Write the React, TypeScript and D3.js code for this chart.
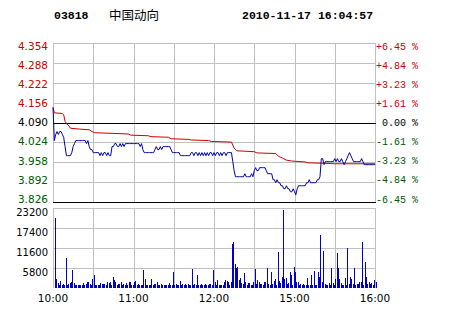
import React from 'react';
import * as d3 from 'd3';

const stockCode = '03818';
const stockName = '中国动向';
const timestamp = '2010-11-17 16:04:57';
const prevClose = 4.09;
const priceTicks = [4.354, 4.288, 4.222, 4.156, 4.09, 4.024, 3.958, 3.892, 3.826];
const pctTicks = ['+6.45 %', '+4.84 %', '+3.23 %', '+1.61 %', ' 0.00 %', '-1.61 %', '-3.23 %', '-4.84 %', '-6.45 %'];
const volTicks = [23200, 17400, 11600, 5800];
const timeLabels: [number, string][] = [[0, '10:00'], [60, '11:00'], [120, '12:00'], [180, '15:00'], [240, '16:00']];
const gridMinutes = [0, 30, 60, 90, 120, 150, 180, 210, 240];

// one value per trading minute (10:00-12:30, 14:30-16:00)
const price = [
  4.14, 4.03, 4.05, 4.06, 4.05, 4.06, 4.06, 4.05, 4.04, 4.01,
  3.98, 3.98, 3.98, 3.98, 3.99, 4.01, 4.02, 4.03, 4.03, 4.03,
  4.03, 4.03, 4.03, 4.03, 4.03, 4.02, 4.03, 4.01, 4.00, 4.00,
  3.99, 3.99, 3.99, 3.99, 3.99, 3.98, 3.99, 3.98, 3.99, 3.99,
  3.98, 3.99, 3.98, 3.98, 4.01, 4.01, 4.02, 4.02, 4.01, 4.01,
  4.02, 4.01, 4.02, 4.01, 4.02, 4.02, 4.02, 4.02, 4.02, 4.02,
  4.02, 4.02, 4.02, 4.02, 4.02, 4.01, 4.02, 4.00, 3.99, 3.99,
  3.99, 3.99, 3.99, 3.99, 3.99, 3.99, 4.00, 4.01, 4.00, 4.00,
  4.01, 4.00, 4.01, 4.01, 4.01, 4.01, 4.01, 4.01, 4.00, 3.99,
  3.99, 3.99, 3.99, 3.99, 3.99, 3.98, 3.98, 3.98, 3.98, 3.98,
  3.98, 3.98, 3.98, 3.99, 3.99, 3.98, 3.99, 3.99, 3.98, 3.99,
  3.98, 3.99, 3.98, 3.99, 3.98, 3.99, 3.98, 3.99, 3.99, 3.98,
  3.99, 3.98, 3.99, 3.99, 3.98, 3.99, 3.98, 3.99, 3.99, 3.98,
  3.99, 3.99, 3.99, 3.99, 3.96, 3.93, 3.91, 3.91, 3.91, 3.91,
  3.91, 3.91, 3.91, 3.92, 3.91, 3.91, 3.91, 3.91, 3.92, 3.91,
  3.93, 3.94, 3.93, 3.93, 3.94, 3.94, 3.94, 3.94, 3.94, 3.93,
  3.92, 3.92, 3.92, 3.92, 3.90, 3.90, 3.89, 3.90, 3.89, 3.89,
  3.88, 3.88, 3.87, 3.87, 3.88, 3.87, 3.87, 3.86, 3.86, 3.87,
  3.86, 3.85, 3.87, 3.88, 3.88, 3.88, 3.88, 3.88, 3.88, 3.89,
  3.89, 3.90, 3.89, 3.89, 3.89, 3.89, 3.89, 3.90, 3.90, 3.91,
  3.97, 3.97, 3.95, 3.96, 3.96, 3.96, 3.96, 3.96, 3.96, 3.96,
  3.97, 3.96, 3.97, 3.96, 3.96, 3.97, 3.96, 3.95, 3.96, 3.97,
  3.98, 3.99, 3.98, 3.97, 3.96, 3.96, 3.96, 3.96, 3.96, 3.96,
  3.97, 3.96, 3.95, 3.95, 3.95, 3.95, 3.95, 3.95, 3.95, 3.95, 3.95,
];

const volume = [
  0, 20400, 2600, 1500, 900, 2000, 900, 1200, 900, 8800,
  900, 1200, 1500, 1800, 5200, 1400, 900, 900, 900, 900,
  900, 900, 1400, 900, 1100, 1700, 1800, 1200, 900, 2600,
  3800, 900, 900, 900, 900, 1400, 1100, 1100, 1100, 900,
  1700, 1400, 1800, 900, 3300, 2300, 1700, 900, 1100, 1100,
  1800, 900, 1100, 900, 1400, 900, 1700, 1800, 900, 900,
  1800, 2000, 900, 1100, 900, 900, 900, 5200, 2600, 900,
  900, 900, 900, 2600, 900, 1100, 1100, 1800, 900, 900,
  1100, 900, 900, 900, 900, 900, 1400, 900, 900, 4700,
  900, 1100, 900, 900, 2000, 900, 1100, 900, 1100, 900,
  1100, 900, 900, 5500, 900, 1100, 900, 3800, 900, 900,
  1100, 900, 900, 1100, 900, 900, 1100, 1200, 900, 5200,
  1800, 900, 2300, 900, 900, 900, 900, 1800, 2200, 2000,
  1800, 900, 1800, 12700, 13300, 6900, 5700, 6000, 2300, 3000,
  1400, 1100, 4400, 1700, 900, 1400, 1400, 900, 900, 1700,
  5500, 1100, 2300, 1800, 1100, 1100, 900, 1700, 1800, 5700,
  1100, 900, 4700, 1100, 2000, 2600, 900, 10500, 2000, 1400,
  3300, 22600, 2600, 3000, 1100, 1400, 4700, 3800, 900, 6200,
  4700, 1700, 1700, 900, 1100, 900, 1200, 900, 900, 3000,
  900, 900, 3800, 900, 4800, 900, 900, 4700, 3300, 15400,
  1800, 10700, 1100, 900, 900, 1400, 900, 5900, 1400, 900,
  2600, 10200, 5700, 2600, 1400, 900, 900, 3000, 900, 11500,
  1100, 3300, 2600, 1100, 5700, 900, 1100, 1100, 1700, 1700,
  13400, 900, 7500, 3300, 1100, 1700, 1100, 1400, 900, 2300, 1700,
];

// average price line: [minute, price]
const avgMinutes = [0, 1, 7, 8, 9, 10, 12, 13, 20, 27, 29, 31, 56, 58, 71, 73, 86, 88, 101, 103, 116, 118, 133, 134, 135, 137, 150, 152, 166, 168, 171, 174, 178, 188, 190, 200, 210, 240];
const avgValues = [4.14, 4.122, 4.12, 4.115, 4.094, 4.087, 4.078, 4.071, 4.068, 4.066, 4.06, 4.056, 4.052, 4.048, 4.046, 4.043, 4.041, 4.036, 4.034, 4.032, 4.03, 4.027, 4.025, 4.015, 4.005, 3.996, 3.993, 3.989, 3.987, 3.978, 3.972, 3.965, 3.962, 3.959, 3.956, 3.955, 3.953, 3.953];

const RED = '#cc0000';
const GREEN = '#005a00';
const GRID = '#c0c0c0';

export default function App() {
  const left = 53, right = 375;
  const pTop = 43, pBottom = 202;
  const vTop = 208, vBottom = 288;

  const x = d3.scaleLinear().domain([0, 240]).range([left, right]);
  const y = d3.scaleLinear().domain([3.826, 4.354]).range([pBottom, pTop]);
  const yLabel = d3.scaleLinear().domain([3.826, 4.354]).range([199, 46]);
  const vy = d3.scaleLinear().domain([0, 23200]).range([vBottom, vTop]);

  const priceLine = d3.line<number>().x((_, i) => x(i)).y((d) => y(d))(price) || '';
  const avgLine = d3.line<number>().x((_, i) => x(avgMinutes[i])).y((d) => y(d))(avgValues) || '';

  const snap = (v: number) => Math.round(v) + 0.5;
  const labelFont = 'DejaVu Sans, Verdana, sans-serif';
  const monoFont = 'Liberation Mono, DejaVu Sans Mono, monospace';

  return (
    <svg width={473} height={309} style={{ position: 'absolute', left: 0, top: 0, background: '#fff' }}>
      <rect x={0} y={0} width={473} height={309} fill="#fff" />
      {/* header */}
      <text x={54} y={19} fontFamily={monoFont} fontWeight="bold" fontSize={11.5} fill="#000">{stockCode}</text>
      <text x={109} y={20} fontFamily="Noto Sans CJK SC, sans-serif" fontSize={12.5} fill="#000">{stockName}</text>
      <text x={242} y={19} fontFamily={monoFont} fontWeight="bold" fontSize={11.5} fill="#000">{timestamp}</text>

      {/* price grid */}
      <g shapeRendering="crispEdges" stroke={GRID} strokeWidth={1}>
        {priceTicks.map((p, i) => (
          <line key={'ph' + i} x1={left} x2={right} y1={snap(y(p))} y2={snap(y(p))} />
        ))}
        {gridMinutes.map((m) => (
          <line key={'pv' + m} x1={snap(x(m))} x2={snap(x(m))} y1={pTop} y2={pBottom} />
        ))}
        {volTicks.map((v) => (
          <line key={'vh' + v} x1={left} x2={right} y1={snap(vy(v))} y2={snap(vy(v))} />
        ))}
        {gridMinutes.map((m) => (
          <line key={'vv' + m} x1={snap(x(m))} x2={snap(x(m))} y1={vTop} y2={vBottom} />
        ))}
      </g>
      <g shapeRendering="crispEdges" stroke="#000" strokeWidth={1}>
        <line x1={left} x2={right + 1} y1={snap(y(prevClose))} y2={snap(y(prevClose))} />
        <line x1={left} x2={right + 1} y1={snap(y(3.826))} y2={snap(y(3.826))} />
      </g>

      {/* volume bars */}
      <g shapeRendering="crispEdges" fill="#0000cc">
        {volume.map((v, i) =>
          v > 0 ? (
            <rect key={'b' + i} x={Math.floor(x(i)) + 1} y={vy(v)} width={1} height={vBottom - vy(v)} />
          ) : null
        )}
      </g>

      {/* lines */}
      <path d={avgLine} fill="none" stroke="#cc0000" strokeWidth={1} />
      <path d={priceLine} fill="none" stroke="#0000aa" strokeWidth={1} />

      {/* left labels */}
      {priceTicks.map((p, i) => (
        <text
          key={'pl' + i}
          x={48}
          y={yLabel(p) + 3.8}
          textAnchor="end"
          fontFamily={labelFont}
          fontSize={10.5}
          fill={p > prevClose ? RED : p < prevClose ? GREEN : '#000'}
        >
          {p.toFixed(3)}
        </text>
      ))}
      {/* right labels */}
      {pctTicks.map((t, i) => (
        <text
          key={'pr' + i}
          x={376}
          y={yLabel(priceTicks[i]) + 3.6}
          fontFamily={monoFont}
          fontSize={10}
          fill={t.startsWith('+') ? RED : t.startsWith('-') ? GREEN : '#000'}
          style={{ whiteSpace: 'pre' }}
        >
          {t}
        </text>
      ))}
      {/* volume labels */}
      {volTicks.map((v) => (
        <text key={'vl' + v} x={48} y={vy(v) + 7.6} textAnchor="end" fontFamily={labelFont} fontSize={10} fill="#000">
          {v}
        </text>
      ))}
      {/* time labels */}
      {timeLabels.map(([m, t]) => (
        <text key={'t' + m} x={x(m)} y={302} textAnchor="middle" fontFamily={labelFont} fontSize={10.5} fill="#000">
          {t}
        </text>
      ))}
    </svg>
  );
}
